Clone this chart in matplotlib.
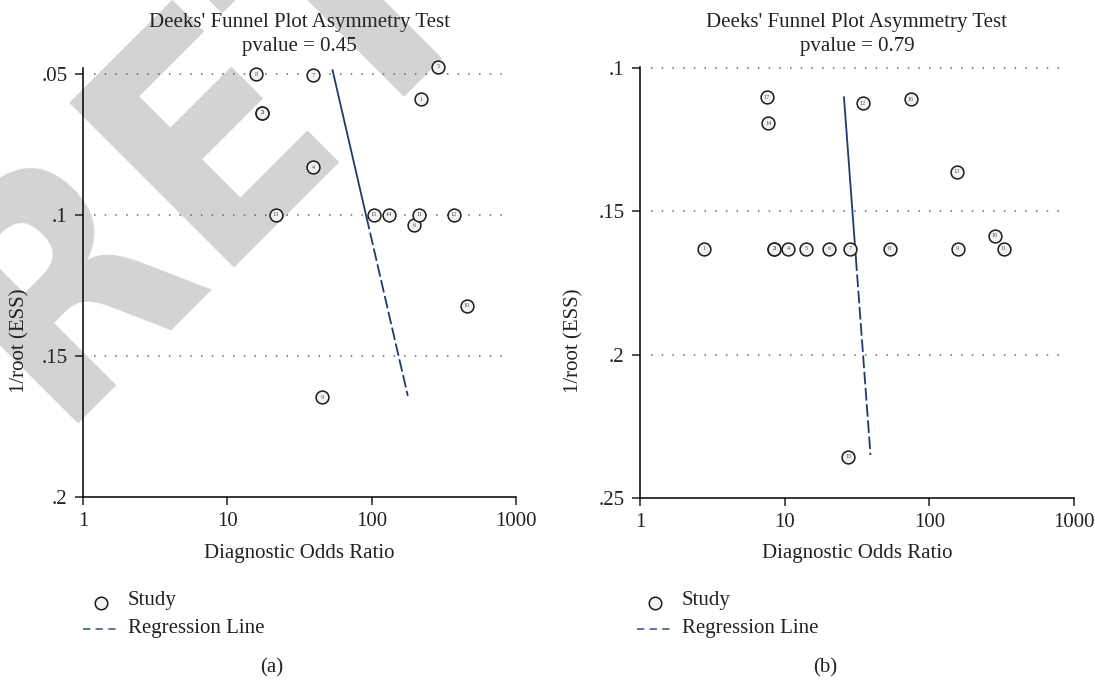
import matplotlib
matplotlib.use('Agg')
import matplotlib.pyplot as plt
import numpy as np

plt.rcParams['font.family'] = ['Liberation Serif', 'DejaVu Serif']

# panel (a) data
a_study = ['1', '2', '3', '4', '5', '6', '7', '8', '9', '10', '11', '12', '13', '14', '15']
a_dor = [219, 17.4, 17.4, 39.4, 289, 197, 39.4, 15.8, 45.3, 458, 213, 372, 21.7, 131, 103]
a_ess = [0.0591, 0.0638, 0.0638, 0.0832, 0.0475, 0.1038, 0.0505, 0.0502, 0.1647, 0.1323,
         0.100, 0.100, 0.100, 0.100, 0.100]
a_reg_x = [53.6, 178]
a_reg_y = [0.0488, 0.1642]
a_pvalue = '0.45'
a_yticks = [0.05, 0.1, 0.15, 0.2]
a_ylabels = ['.05', '.1', '.15', '.2']
a_ylim = (0.2, 0.048)

# panel (b) data
b_study = ['1', '2', '3', '4', '5', '6', '7', '8', '9', '10', '11', '12', '13', '14', '15', '16', '17']
b_dor = [2.79, 8.44, 8.44, 10.6, 14.1, 20.4, 28.5, 53.2, 157, 283, 327, 34.7, 155, 7.69, 27.6, 74.3, 7.52]
b_ess = [0.163, 0.163, 0.163, 0.163, 0.163, 0.163, 0.163, 0.163, 0.163, 0.1586, 0.163,
         0.1122, 0.1361, 0.1193, 0.2357, 0.1109, 0.1102]
b_reg_x = [25.7, 39.2]
b_reg_y = [0.1102, 0.2351]
b_pvalue = '0.79'
b_yticks = [0.1, 0.15, 0.2, 0.25]
b_ylabels = ['.1', '.15', '.2', '.25']
b_ylim = (0.25, 0.0995)

xticks = [1, 10, 100, 1000]
xlabels = ['1', '10', '100', '1000']

line_col = '#1d3c6b'
txt_col = '#222222'
fs = 15

fig = plt.figure(figsize=(10.95, 6.82), dpi=100)

# watermark behind everything
fig.text(52 / 1095, 1 - 423 / 682, 'RETRACTED', rotation=45, rotation_mode='anchor',
         ha='left', va='baseline', fontsize=230, fontweight='bold',
         family='DejaVu Sans', fontstretch='condensed', color='#d3d3d3', zorder=-5)


def panel(rect, dor, ess, study, reg_x, reg_y, pval, yticks, ylabels, ylim,
          ylab_x, leg_x, cap_x, cap):
    ax = fig.add_axes(rect)
    ax.set_facecolor('none')
    ax.set_xscale('log')
    ax.set_xlim(1, 1000)
    ax.set_ylim(*ylim)

    for yt in yticks[:-1]:
        ax.axhline(yt, xmin=0.025, xmax=0.975, color='#666666', lw=1.1,
                   ls=(0, (1, 6)), zorder=1)

    # regression line: solid top part, dashed lower part (as in the original)
    lx = np.log10(reg_x)
    t = 0.45
    mx = 10 ** (lx[0] + t * (lx[1] - lx[0]))
    my = reg_y[0] + t * (reg_y[1] - reg_y[0])
    ax.plot([reg_x[0], mx], [reg_y[0], my], color=line_col, lw=1.3, zorder=2)
    ax.plot([mx, reg_x[1]], [my, reg_y[1]], color=line_col, lw=1.3,
            dashes=(7, 2), zorder=2)

    ax.scatter(dor, ess, s=85, facecolor='#f2f2f2', edgecolor='#1a1a1a',
               linewidth=1.1, zorder=3, clip_on=False)
    for x, y, s in zip(dor, ess, study):
        ax.text(x, y, s, fontsize=4.5, color='#555555', ha='center',
                va='center', zorder=4)

    for side in ['top', 'right']:
        ax.spines[side].set_visible(False)
    ax.spines['left'].set_linewidth(1.1)
    ax.spines['bottom'].set_linewidth(1.1)
    ax.set_xticks(xticks, xlabels)
    ax.xaxis.set_minor_locator(matplotlib.ticker.NullLocator())
    ax.set_yticks(yticks, ylabels)
    ax.tick_params(length=6, width=1.1, labelsize=fs, colors=txt_col, pad=5)

    cx = rect[0] + rect[2] / 2
    fig.text(cx, 1 - 22 / 682, "Deeks' Funnel Plot Asymmetry Test", fontsize=fs,
             color=txt_col, ha='center', va='center')
    fig.text(cx, 1 - 47 / 682, 'pvalue = ' + pval, fontsize=fs,
             color=txt_col, ha='center', va='center')
    ax.set_xlabel('Diagnostic Odds Ratio', fontsize=fs, color=txt_col, labelpad=9)
    ax.set_ylabel('1/root (ESS)', fontsize=fs, color=txt_col)
    ax.yaxis.set_label_coords(ylab_x, 0.5, transform=fig.transFigure)

    # legend below the plot
    fig.lines.append(plt.Line2D([leg_x + 0.016], [1 - 603 / 682], marker='o',
                                ms=9, mfc='#f2f2f2', mec='#1a1a1a', mew=1.1,
                                ls='none', transform=fig.transFigure))
    fig.lines.append(plt.Line2D([leg_x, leg_x + 0.032], [1 - 629 / 682] * 2,
                                color='#4d6a90', lw=1.3, dashes=(4, 3),
                                transform=fig.transFigure))
    fig.text(leg_x + 0.041, 1 - 600 / 682, 'Study', fontsize=fs, color=txt_col,
             va='center', ha='left')
    fig.text(leg_x + 0.041, 1 - 629 / 682, 'Regression Line', fontsize=fs,
             color=txt_col, va='center', ha='left')
    fig.text(cap_x, 1 - 668 / 682, cap, fontsize=fs, color=txt_col,
             ha='center', va='center')
    return ax


panel([83 / 1095, 185 / 682, 433 / 1095, 429 / 682], a_dor, a_ess, a_study,
      a_reg_x, a_reg_y, a_pvalue, a_yticks, a_ylabels, a_ylim,
      29 / 1095, 83 / 1095, 272 / 1095, '(a)')
panel([640 / 1095, 184.3 / 682, 434 / 1095, 431 / 682], b_dor, b_ess, b_study,
      b_reg_x, b_reg_y, b_pvalue, b_yticks, b_ylabels, b_ylim,
      583 / 1095, 637 / 1095, 825 / 1095, '(b)')

fig.savefig('out.png', dpi=100, facecolor='white')
